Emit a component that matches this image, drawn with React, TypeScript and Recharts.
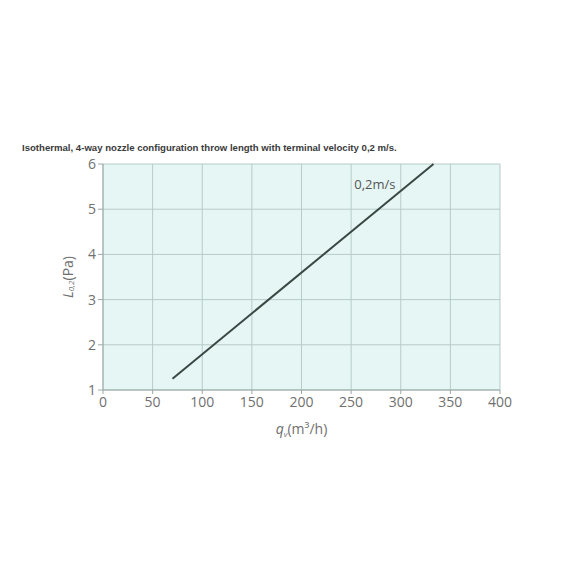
import {
  LineChart, Line, XAxis, YAxis, CartesianGrid, ReferenceDot,
} from 'recharts'

const X_TICKS = [0, 50, 100, 150, 200, 250, 300, 350, 400]
const Y_TICKS = [1, 2, 3, 4, 5, 6]

// Throw length curve for terminal velocity 0,2 m/s
const FLOW = [70, 333]
const THROW = [1.25, 6]

const CURVE_LABEL = '0,2m/s'
const CURVE_LABEL_AT = { x: 274, y: 5.56 }

const TITLE = 'Isothermal, 4-way nozzle configuration throw length with terminal velocity 0,2 m/s.'

const points = FLOW.map((q, i) => ({ q, l: THROW[i] }))

const tickStyle = { fontSize: 14, fill: '#707070', fontFamily: '"Open Sans", sans-serif' }

function YLabel({ viewBox }: any) {
  const cx = viewBox.x - 6
  const cy = viewBox.y + viewBox.height / 2
  return (
    <text
      x={cx}
      y={cy}
      transform={`rotate(-90 ${cx} ${cy})`}
      textAnchor="middle"
      dominantBaseline="central"
      fontSize={14}
      fill="#6f6f6f"
      fontFamily='"Open Sans", sans-serif'
    >
      <tspan fontStyle="italic">L</tspan>
      <tspan fontSize={8} fontStyle="italic" dy={3}>0,2</tspan>
      <tspan dy={-3}>(Pa)</tspan>
    </text>
  )
}

function XLabel({ viewBox }: any) {
  const cx = viewBox.x + viewBox.width / 2
  const cy = viewBox.y + viewBox.height + 14
  return (
    <text
      x={cx}
      y={cy}
      textAnchor="middle"
      fontSize={14}
      fill="#6f6f6f"
      fontFamily='"Open Sans", sans-serif'
    >
      <tspan fontStyle="italic">q</tspan>
      <tspan fontSize={8} fontStyle="italic" dy={3}>v</tspan>
      <tspan dy={-3}>(m³/h)</tspan>
    </text>
  )
}

export default function App() {
  return (
    <div style={{ position: 'absolute', left: 0, top: 0, width: 576, height: 576, background: '#fff' }}>
      <div
        style={{
          position: 'absolute', left: 22, top: 142,
          fontFamily: '"Liberation Sans", Arial, sans-serif',
          fontSize: 9.6, fontWeight: 'bold', color: '#3a3a3a', whiteSpace: 'nowrap',
        }}
      >
        {TITLE}
      </div>
      <LineChart
        width={576}
        height={576}
        data={points}
        margin={{ top: 164, right: 76, left: 73, bottom: 156 }}
      >
        <CartesianGrid
          fill="#e6f6f5"
          stroke="#b7cbc7"
          strokeWidth={1}
          horizontalValues={Y_TICKS}
          verticalValues={X_TICKS}
        />
        <XAxis
          type="number"
          dataKey="q"
          domain={[0, 400]}
          ticks={X_TICKS}
          tick={tickStyle}
          tickSize={4}
          tickMargin={3}
          stroke="#9aa8a6"
          height={30}
          label={<XLabel />}
        />
        <YAxis
          type="number"
          dataKey="l"
          domain={[1, 6]}
          ticks={Y_TICKS}
          tick={tickStyle}
          tickSize={5}
          tickMargin={2}
          stroke="#9aa8a6"
          width={30}
          label={<YLabel />}
        />
        <Line
          type="linear"
          dataKey="l"
          stroke="#3a4843"
          strokeWidth={2}
          dot={false}
          isAnimationActive={false}
        />
        <ReferenceDot
          x={CURVE_LABEL_AT.x}
          y={CURVE_LABEL_AT.y}
          r={0}
          fill="none"
          stroke="none"
          label={{ value: CURVE_LABEL, position: 'center', fontSize: 13, fill: '#555', fontFamily: '"Open Sans", sans-serif' }}
        />
      </LineChart>
    </div>
  )
}
